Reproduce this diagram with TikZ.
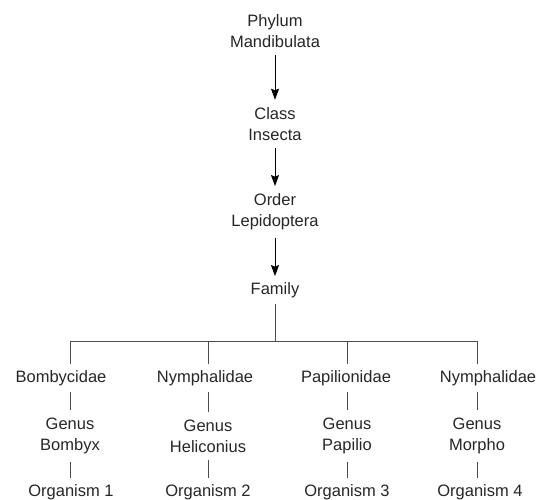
\documentclass[tikz,border=0pt]{standalone}
\usepackage{fontspec}
\setmainfont{Liberation Sans}
\usetikzlibrary{arrows.meta}
\begin{document}
\begin{tikzpicture}[x=1pt,y=-1pt,
  lbl/.style={align=center, font=\fontsize{16.5}{21}\selectfont, inner xsep=0pt, inner ysep=6pt, text=black!85},
  two/.style={lbl, inner ysep=7.5pt},
  ln/.style={draw=black!70, line width=1pt},
  arr/.style={draw=black, line width=1pt, -{Stealth[length=11pt,width=8pt,inset=1.5pt]}}]
\useasboundingbox (0,0) rectangle (543,500);
\node[two] (phy) at (275,31) {Phylum\\Mandibulata};
\node[two] (cls) at (275,124) {Class\\Insecta};
\node[two] (ord) at (275,212) {Order\\Lepidoptera};
\node[lbl] (fam) at (275,290) {Family};
\draw[arr] (phy) -- (cls);
\draw[arr] (cls) -- (ord);
\draw[arr] (ord) -- (fam);
\coordinate (top) at (275,341);
\coordinate (b1) at (70,341);
\coordinate (b2) at (208,341);
\coordinate (b3) at (347,341);
\coordinate (b4) at (477,341);
\node[lbl] (f1) at (61,378) {Bombycidae};
\node[lbl] (f2) at (205,378) {Nymphalidae};
\node[lbl] (f3) at (346,378) {Papilionidae};
\node[lbl] (f4) at (488,378) {Nymphalidae};
\node[two] (g1) at (70,436) {Genus\\Bombyx};
\node[two] (g2) at (208,436) {Genus\\Heliconius};
\node[two] (g3) at (347,436) {Genus\\Papilio};
\node[two] (g4) at (477,436) {Genus\\Morpho};
\node[lbl] (o1) at (71,492) {Organism 1};
\node[lbl] (o2) at (208,492) {Organism 2};
\node[lbl] (o3) at (347,492) {Organism 3};
\node[lbl] (o4) at (480,492) {Organism 4};
\draw[ln] (fam) -- (top);
\draw[ln, line cap=rect] (b1) -- (b4);
\foreach \i in {1,2,3,4} {
  \draw[ln] (b\i) -- (b\i |- f\i.north);
  \draw[ln] (g\i |- f\i.south) -- (g\i.north);
  \draw[ln] (g\i.south) -- (g\i |- o\i.north);
}
\end{tikzpicture}
\end{document}
